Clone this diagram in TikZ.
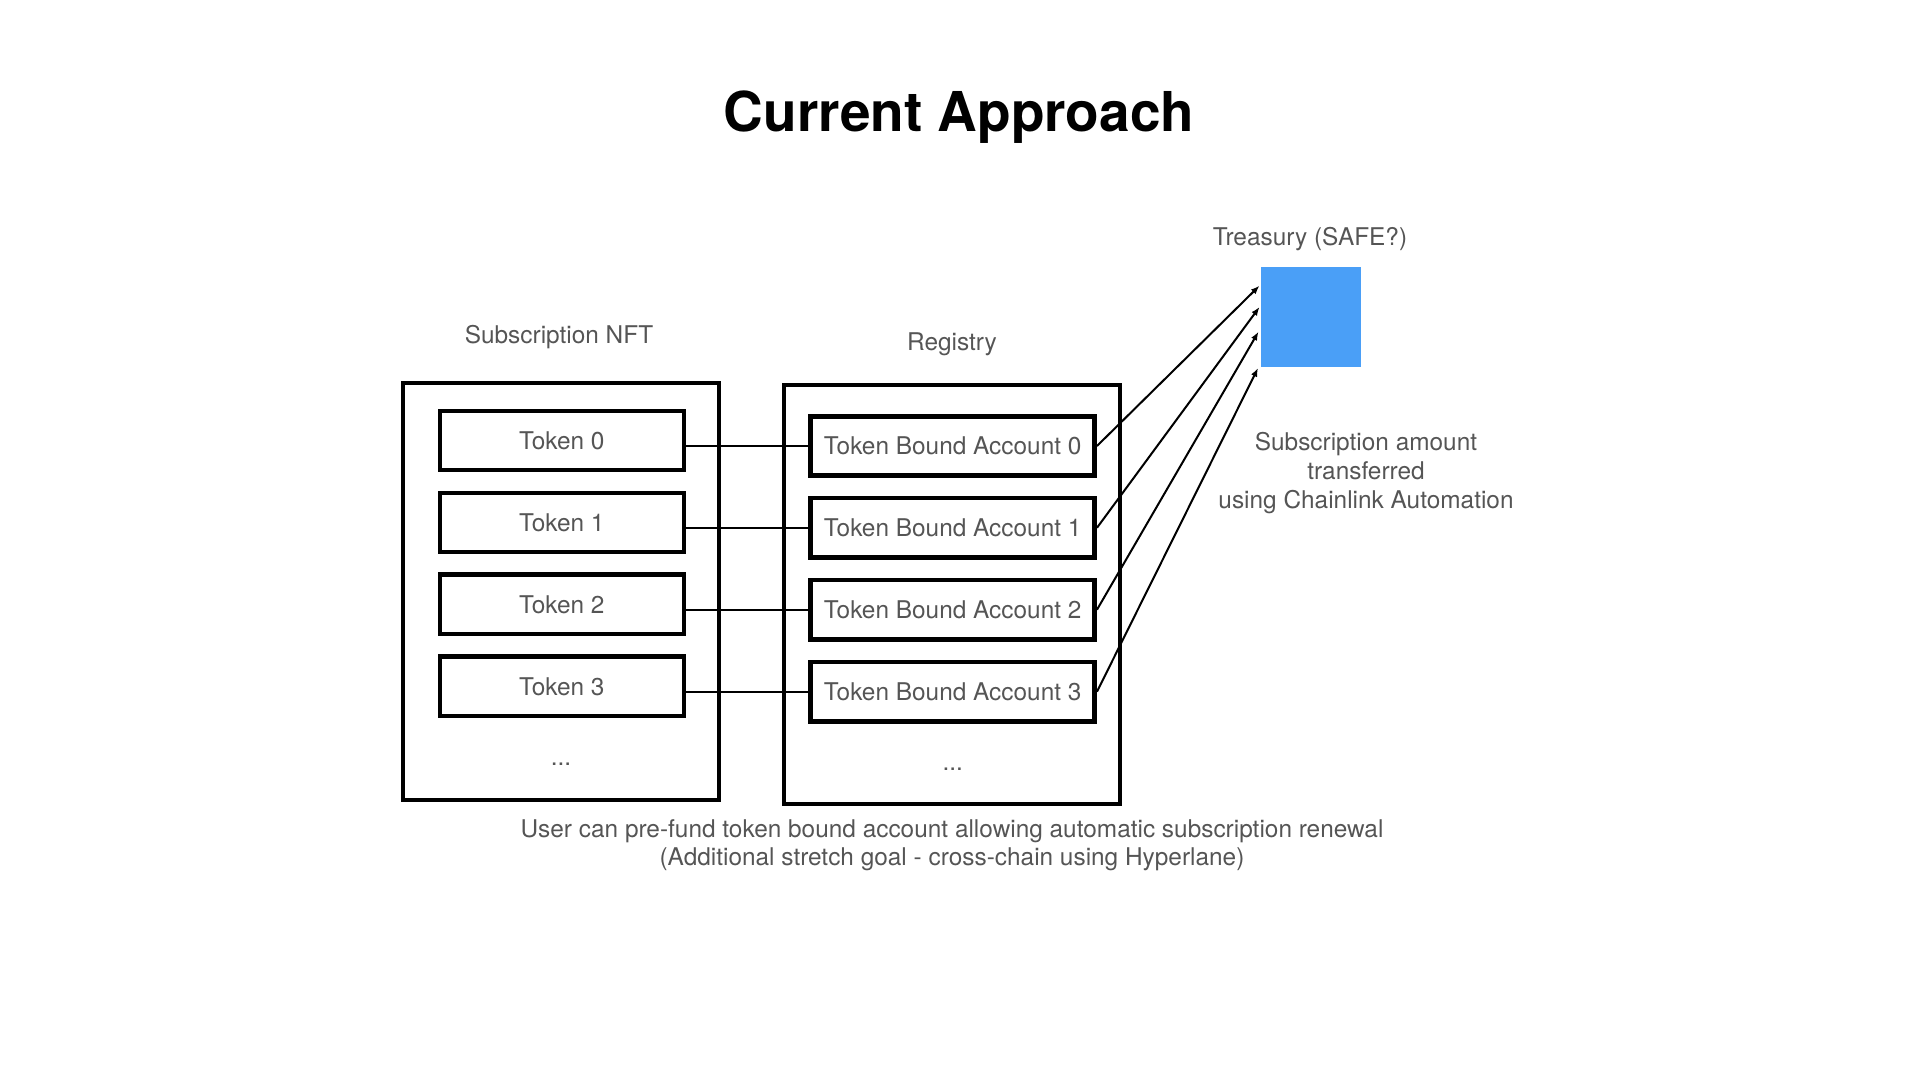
\documentclass[tikz,border=0pt]{standalone}
\usepackage{fontspec}
\setmainfont{TeX Gyre Heros}
\usetikzlibrary{arrows.meta}
\definecolor{labelgray}{HTML}{555555}
\definecolor{safeblue}{HTML}{4A9FF7}
\tikzset{every picture/.style={line width=0.75pt}}
\tikzset{
  outerbox/.style={draw, line width=3pt, inner sep=0pt},
  tokenbox/.style={draw, line width=3.4pt, inner sep=0pt, minimum width=183pt, minimum height=44.5pt, text=labelgray, font=\fontsize{18.3}{21.6}\selectfont},
  accountbox/.style={tokenbox, minimum width=213pt},
  plain/.style={inner sep=0pt, text=labelgray, font=\fontsize{18.3}{21.6}\selectfont, align=center},
  link/.style={line width=1.5pt},
  transfer/.style={line width=1.5pt, -{Latex[length=6.5pt,width=5pt]}}
}
\begin{document}
\begin{tikzpicture}[x=0.75pt,y=0.75pt,yscale=-1,xscale=1]
\useasboundingbox (0,0) rectangle (1920,1080);

% Text Node
\node[inner sep=0pt, anchor=base, font=\fontsize{41.2}{49}\selectfont\bfseries] (title) at (959,131.7) {Current Approach};

%Shape: Rectangle
\node[outerbox, minimum width=237pt, minimum height=312.75pt] (nft) at (561,591.5) {};
%Shape: Rectangle
\node[outerbox, minimum width=252.4pt, minimum height=314pt] (registry) at (952,594.7) {};

% Text Node
\node[plain, anchor=base] (nftlabel) at (559,343.3) {Subscription NFT};
% Text Node
\node[plain, anchor=base] (registrylabel) at (952,350.5) {Registry};

% Text Node
\node[tokenbox] (tok0) at (561.8,440.5) {Token 0};
% Text Node
\node[tokenbox] (tok1) at (561.8,522.5) {Token 1};
% Text Node
\node[tokenbox] (tok2) at (561.8,604.3) {Token 2};
% Text Node
\node[tokenbox] (tok3) at (561.8,686.3) {Token 3};
% Text Node
\node[plain, anchor=base] (nftdots) at (561,765) {...};

% Text Node
\node[accountbox] (acc0) at (952.7,446) {Token Bound Account 0};
% Text Node
\node[accountbox] (acc1) at (952.7,527.8) {Token Bound Account 1};
% Text Node
\node[accountbox] (acc2) at (952.7,609.7) {Token Bound Account 2};
% Text Node
\node[accountbox] (acc3) at (952.7,691.7) {Token Bound Account 3};
% Text Node
\node[plain, anchor=base] (registrydots) at (952.7,770) {...};

%Shape: Square
\node[fill=safeblue, minimum size=75pt, inner sep=0pt] (treasury) at (1310.5,317.5) {};
% Text Node
\node[plain, anchor=base] (treasurylabel) at (1310,246) {Treasury (SAFE?)};
% Text Node
\node[plain] (transfernote) at (1366,473.3) {Subscription amount\\transferred\\using Chainlink Automation};
% Text Node
\node[plain] (renewnote) at (952,845.3) {User can pre-fund token bound account allowing automatic subscription renewal\\(Additional stretch goal - cross-chain using Hyperlane)};

\coordinate (in0) at (1259.5,285.7);
\coordinate (in1) at (1259.5,307);
\coordinate (in2) at (1258.5,331.7);
\coordinate (in3) at (1258,368);

%Straight Lines
\draw[link] (tok0.east |- acc0.west) -- (acc0.west);
\draw[link] (tok1.east |- acc1.west) -- (acc1.west);
\draw[link] (tok2.east |- acc2.west) -- (acc2.west);
\draw[link] (tok3.east |- acc3.west) -- (acc3.west);

%Straight Lines
\draw[transfer] (acc0.east) -- (in0);
\draw[transfer] (acc1.east) -- (in1);
\draw[transfer] (acc2.east) -- (in2);
\draw[transfer] (acc3.east) -- (in3);

\end{tikzpicture}
\end{document}
